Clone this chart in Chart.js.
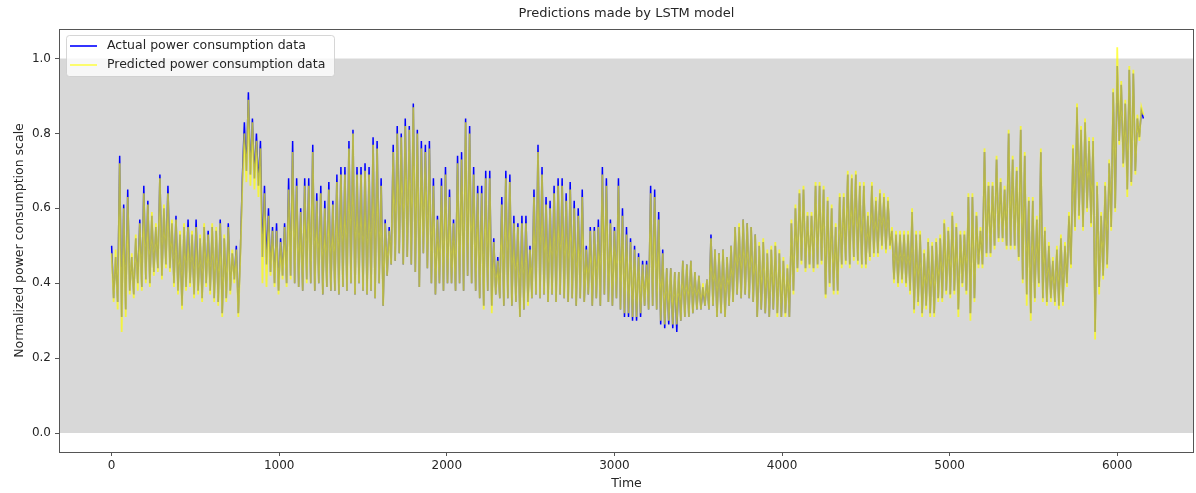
<!DOCTYPE html>
<html><head><meta charset="utf-8">
<script src="https://cdn.jsdelivr.net/npm/chart.js@4.4.1/dist/chart.umd.min.js"></script>
<style>html,body{margin:0;padding:0;background:#fff;}#wrap{width:1196px;height:493px;}</style>
</head><body><div id="wrap"><canvas id="c" width="1196" height="493"></canvas></div>
<script>
const TITLE = 'Predictions made by LSTM model';
const X_LABEL = 'Time';
const Y_LABEL = 'Normalized power consumption scale';
const SERIES_NAMES = ['Actual power consumption data', 'Predicted power consumption data'];
const TIME_STEP = 12;
const X_TICKS = [0, 1000, 2000, 3000, 4000, 5000, 6000];
const Y_TICKS = [0.0, 0.2, 0.4, 0.6, 0.8, 1.0];
const BAND = [0.0, 1.0];

const actual = [
0.50,0.36,0.47,0.35,0.74,0.31,0.61,0.33,0.65,0.38,
0.47,0.37,0.52,0.40,0.57,0.39,0.66,0.41,0.62,0.40,
0.58,0.43,0.55,0.44,0.69,0.42,0.60,0.45,0.66,0.44,
0.56,0.40,0.58,0.38,0.53,0.34,0.55,0.39,0.57,0.40,
0.53,0.37,0.57,0.38,0.52,0.36,0.55,0.40,0.54,0.38,
0.55,0.36,0.54,0.35,0.57,0.32,0.52,0.36,0.56,0.38,
0.48,0.41,0.50,0.32,0.48,0.68,0.83,0.70,0.91,0.69,
0.84,0.68,0.80,0.66,0.78,0.47,0.66,0.45,0.60,0.43,
0.55,0.40,0.56,0.38,0.52,0.42,0.56,0.40,0.68,0.42,
0.78,0.40,0.68,0.39,0.60,0.38,0.68,0.41,0.68,0.40,
0.77,0.38,0.64,0.40,0.66,0.37,0.62,0.39,0.67,0.38,
0.62,0.38,0.69,0.37,0.71,0.39,0.71,0.38,0.78,0.40,
0.81,0.37,0.71,0.40,0.71,0.38,0.72,0.37,0.71,0.38,
0.79,0.36,0.78,0.40,0.68,0.34,0.57,0.42,0.55,0.45,
0.77,0.46,0.82,0.48,0.80,0.45,0.84,0.47,0.82,0.45,
0.88,0.43,0.81,0.39,0.78,0.48,0.77,0.44,0.78,0.40,
0.68,0.37,0.58,0.40,0.68,0.38,0.71,0.40,0.65,0.40,
0.57,0.38,0.74,0.40,0.75,0.38,0.84,0.42,0.82,0.40,
0.71,0.38,0.66,0.36,0.66,0.34,0.70,0.38,0.70,0.34,
0.52,0.37,0.47,0.36,0.63,0.34,0.70,0.36,0.69,0.34,
0.58,0.35,0.56,0.31,0.58,0.33,0.58,0.35,0.50,0.36,
0.65,0.37,0.77,0.36,0.71,0.37,0.63,0.35,0.62,0.37,
0.66,0.35,0.68,0.37,0.68,0.36,0.64,0.35,0.67,0.36,
0.62,0.34,0.60,0.36,0.65,0.35,0.50,0.37,0.55,0.34,
0.55,0.36,0.57,0.34,0.71,0.37,0.68,0.35,0.57,0.34,
0.55,0.36,0.68,0.33,0.60,0.31,0.55,0.31,0.52,0.30,
0.50,0.30,0.48,0.31,0.46,0.34,0.46,0.33,0.66,0.34,
0.65,0.33,0.59,0.29,0.49,0.28,0.44,0.29,0.44,0.28,
0.43,0.27,0.43,0.30,0.46,0.31,0.45,0.31,0.46,0.32,
0.43,0.33,0.42,0.33,0.39,0.34,0.41,0.33,0.53,0.34,
0.49,0.31,0.48,0.32,0.49,0.31,0.47,0.34,0.50,0.35,
0.55,0.37,0.55,0.36,0.57,0.37,0.56,0.36,0.55,0.35,
0.53,0.31,0.50,0.33,0.51,0.32,0.48,0.31,0.49,0.33,
0.50,0.32,0.48,0.31,0.46,0.32,0.44,0.31,0.56,0.38,
0.60,0.44,0.64,0.46,0.65,0.44,0.58,0.45,0.58,0.44,
0.66,0.45,0.66,0.46,0.65,0.37,0.62,0.40,0.60,0.38,
0.55,0.38,0.63,0.45,0.63,0.46,0.69,0.45,0.68,0.47,
0.69,0.46,0.66,0.45,0.66,0.45,0.58,0.47,0.66,0.48,
0.62,0.48,0.64,0.50,0.63,0.49,0.62,0.50,0.54,0.41,
0.53,0.40,0.53,0.41,0.53,0.40,0.53,0.38,0.59,0.33,
0.53,0.35,0.53,0.32,0.48,0.34,0.51,0.32,0.50,0.32,
0.51,0.36,0.52,0.36,0.56,0.38,0.54,0.37,0.58,0.38,
0.55,0.33,0.53,0.40,0.53,0.38,0.63,0.32,0.63,0.36,
0.58,0.45,0.54,0.45,0.75,0.48,0.66,0.48,0.66,0.50,
0.73,0.52,0.67,0.52,0.65,0.50,0.80,0.50,0.73,0.50,
0.70,0.47,0.81,0.41,0.74,0.37,0.62,0.32,0.62,0.36,
0.57,0.40,0.75,0.36,0.54,0.35,0.50,0.36,0.46,0.35,
0.49,0.34,0.52,0.35,0.50,0.40,0.58,0.45,0.76,0.55,
0.87,0.58,0.81,0.55,0.83,0.60,0.78,0.56,0.78,0.27,
0.66,0.39,0.58,0.42,0.66,0.45,0.72,0.55,0.91,0.60,
0.98,0.78,0.93,0.72,0.88,0.65,0.97,0.67,0.96,0.70,
0.84,0.79,0.86,0.84
];

const predicted = [
0.48,0.35,0.49,0.33,0.72,0.27,0.60,0.31,0.63,0.37,
0.48,0.36,0.53,0.38,0.56,0.38,0.64,0.40,0.61,0.39,
0.59,0.42,0.56,0.43,0.68,0.41,0.61,0.44,0.64,0.43,
0.57,0.39,0.57,0.37,0.54,0.33,0.56,0.38,0.55,0.39,
0.54,0.36,0.55,0.37,0.53,0.35,0.56,0.39,0.53,0.37,
0.56,0.35,0.55,0.34,0.56,0.31,0.53,0.35,0.55,0.37,
0.49,0.40,0.49,0.31,0.47,0.66,0.80,0.67,0.89,0.66,
0.83,0.65,0.78,0.63,0.76,0.40,0.64,0.39,0.58,0.42,
0.54,0.39,0.54,0.37,0.51,0.41,0.55,0.39,0.65,0.41,
0.75,0.40,0.66,0.39,0.59,0.38,0.66,0.40,0.66,0.40,
0.75,0.38,0.62,0.40,0.64,0.37,0.60,0.39,0.65,0.38,
0.61,0.38,0.67,0.37,0.69,0.39,0.69,0.38,0.76,0.40,
0.80,0.37,0.69,0.40,0.69,0.38,0.70,0.37,0.69,0.38,
0.77,0.36,0.76,0.40,0.66,0.34,0.56,0.42,0.54,0.45,
0.75,0.46,0.80,0.48,0.79,0.45,0.82,0.47,0.81,0.45,
0.87,0.43,0.80,0.39,0.76,0.48,0.75,0.44,0.76,0.40,
0.66,0.37,0.57,0.40,0.66,0.38,0.69,0.40,0.63,0.40,
0.56,0.38,0.72,0.40,0.73,0.38,0.83,0.42,0.80,0.40,
0.69,0.38,0.64,0.36,0.64,0.33,0.68,0.38,0.68,0.32,
0.51,0.37,0.46,0.36,0.61,0.34,0.68,0.36,0.67,0.34,
0.56,0.35,0.55,0.31,0.56,0.33,0.56,0.34,0.49,0.36,
0.63,0.37,0.75,0.36,0.69,0.37,0.61,0.35,0.60,0.37,
0.64,0.35,0.66,0.37,0.66,0.36,0.62,0.35,0.65,0.36,
0.60,0.34,0.58,0.36,0.63,0.35,0.49,0.37,0.54,0.34,
0.54,0.36,0.55,0.34,0.69,0.37,0.66,0.35,0.56,0.34,
0.54,0.36,0.66,0.33,0.58,0.32,0.53,0.32,0.51,0.31,
0.49,0.31,0.47,0.32,0.45,0.34,0.45,0.33,0.64,0.34,
0.63,0.33,0.57,0.30,0.48,0.29,0.44,0.30,0.44,0.29,
0.43,0.29,0.43,0.30,0.46,0.31,0.45,0.31,0.46,0.32,
0.43,0.33,0.42,0.33,0.40,0.34,0.41,0.33,0.52,0.34,
0.49,0.31,0.48,0.32,0.49,0.31,0.47,0.34,0.50,0.35,
0.55,0.37,0.56,0.36,0.57,0.37,0.56,0.36,0.55,0.35,
0.53,0.31,0.51,0.33,0.52,0.32,0.49,0.31,0.50,0.33,
0.51,0.31,0.49,0.31,0.47,0.31,0.45,0.31,0.57,0.37,
0.61,0.43,0.65,0.45,0.66,0.43,0.59,0.44,0.59,0.43,
0.67,0.44,0.67,0.45,0.66,0.36,0.63,0.39,0.61,0.37,
0.56,0.37,0.64,0.44,0.64,0.45,0.70,0.44,0.69,0.46,
0.70,0.45,0.67,0.44,0.67,0.44,0.59,0.46,0.67,0.47,
0.63,0.47,0.65,0.49,0.64,0.48,0.63,0.49,0.55,0.40,
0.54,0.39,0.54,0.40,0.54,0.39,0.54,0.37,0.60,0.32,
0.54,0.34,0.54,0.31,0.49,0.33,0.52,0.31,0.51,0.31,
0.52,0.35,0.53,0.35,0.57,0.37,0.55,0.36,0.59,0.37,
0.56,0.31,0.54,0.39,0.54,0.37,0.64,0.30,0.64,0.35,
0.59,0.44,0.55,0.44,0.76,0.47,0.67,0.47,0.67,0.49,
0.74,0.51,0.68,0.51,0.66,0.49,0.81,0.49,0.74,0.49,
0.71,0.46,0.82,0.40,0.75,0.34,0.63,0.30,0.63,0.35,
0.58,0.39,0.76,0.35,0.55,0.34,0.51,0.35,0.47,0.34,
0.50,0.33,0.53,0.34,0.51,0.39,0.59,0.44,0.77,0.54,
0.88,0.57,0.82,0.54,0.84,0.59,0.79,0.55,0.79,0.25,
0.67,0.37,0.59,0.41,0.67,0.44,0.73,0.54,0.92,0.59,
1.03,0.77,0.94,0.71,0.89,0.63,0.98,0.66,0.97,0.69,
0.85,0.78,0.87,0.85
];

const timeIndex = actual.map((_, i) => i * TIME_STEP);
const FONT = 'DejaVu Sans';
const TXT = '#262626';

const bandPlugin = {
  id: 'band',
  beforeDatasetsDraw(chart) {
    const {ctx, chartArea: a, scales: {y}} = chart;
    const y1 = y.getPixelForValue(BAND[1]);
    const y0 = y.getPixelForValue(BAND[0]);
    ctx.save();
    ctx.fillStyle = '#d8d8d8';
    ctx.fillRect(a.left, y1, a.right - a.left, y0 - y1);
    ctx.restore();
  },
  afterDatasetsDraw(chart) {
    const {ctx, chartArea: a} = chart;
    ctx.save();
    ctx.strokeStyle = '#555';
    ctx.lineWidth = 1;
    ctx.strokeRect(Math.round(a.left) + 0.5, Math.round(a.top) + 0.5,
      Math.round(a.right - a.left) - 1, Math.round(a.bottom - a.top));
    const lx = a.left + 7, ly = a.top + 6, lw = 268, lh = 41;
    ctx.fillStyle = 'rgba(255,255,255,0.8)';
    ctx.strokeStyle = 'rgba(204,204,204,0.8)';
    ctx.beginPath();
    if (ctx.roundRect) ctx.roundRect(lx + 0.5, ly + 0.5, lw, lh, 3); else ctx.rect(lx + 0.5, ly + 0.5, lw, lh);
    ctx.fill(); ctx.stroke();
    const cols = ['#0000ff', 'rgba(255,255,0,0.7)'];
    ctx.font = '12.5px "' + FONT + '"';
    ctx.textBaseline = 'middle';
    ctx.textAlign = 'left';
    SERIES_NAMES.forEach((n, i) => {
      const yy = ly + 11 + i * 19;
      ctx.strokeStyle = cols[i];
      ctx.lineWidth = 1.6;
      ctx.beginPath(); ctx.moveTo(lx + 4, yy); ctx.lineTo(lx + 31, yy); ctx.stroke();
      ctx.fillStyle = TXT;
      ctx.fillText(n, lx + 41, yy);
    });
    ctx.restore();
  }
};

new Chart(document.getElementById('c'), {
  type: 'line',
  data: {
    datasets: [
      { label: SERIES_NAMES[0], data: timeIndex.map((t, i) => ({x: t, y: actual[i]})),
        borderColor: '#0000ff', borderWidth: 1.5, pointRadius: 0, tension: 0, order: 2 },
      { label: SERIES_NAMES[1], data: timeIndex.map((t, i) => ({x: t, y: predicted[i]})),
        borderColor: 'rgba(255,255,0,0.7)', borderWidth: 1.8, pointRadius: 0, tension: 0, order: 1 }
    ]
  },
  options: {
    responsive: false,
    animation: false,
    devicePixelRatio: 1,
    layout: { padding: { left: 0, right: 2, top: 0, bottom: 0 } },
    plugins: {
      legend: { display: false },
      tooltip: { enabled: false },
      title: { display: true, text: TITLE, fullSize: false, color: TXT,
        font: { family: FONT, size: 13, weight: 'normal' }, padding: { top: 6, bottom: 7.4 } }
    },
    scales: {
      x: {
        type: 'linear', min: -314, max: 6458,
        afterFit: s => { s.height = 41; },
        afterBuildTicks: s => { s.ticks = X_TICKS.map(v => ({value: v})); },
        ticks: { color: TXT, font: { family: FONT, size: 12 }, padding: 3, maxRotation: 0,
          callback: v => String(v) },
        grid: { display: true, drawOnChartArea: false, drawTicks: true, tickLength: 4, color: '#555' },
        border: { display: false },
        title: { display: true, text: X_LABEL, color: TXT, font: { family: FONT, size: 12.5 }, padding: { top: 0, bottom: 2 } }
      },
      y: {
        type: 'linear', min: -0.0507, max: 1.0788,
        afterFit: s => { s.width = 59; },
        afterBuildTicks: s => { s.ticks = Y_TICKS.map(v => ({value: v})); },
        ticks: { color: TXT, font: { family: FONT, size: 12 }, padding: 4,
          callback: v => Number(v).toFixed(1) },
        grid: { display: true, drawOnChartArea: false, drawTicks: true, tickLength: 4, color: '#555' },
        border: { display: false },
        title: { display: true, text: Y_LABEL, color: TXT, font: { family: FONT, size: 12.5 }, padding: { top: 12, bottom: 0 } }
      }
    }
  },
  plugins: [bandPlugin]
});
</script></body></html>
